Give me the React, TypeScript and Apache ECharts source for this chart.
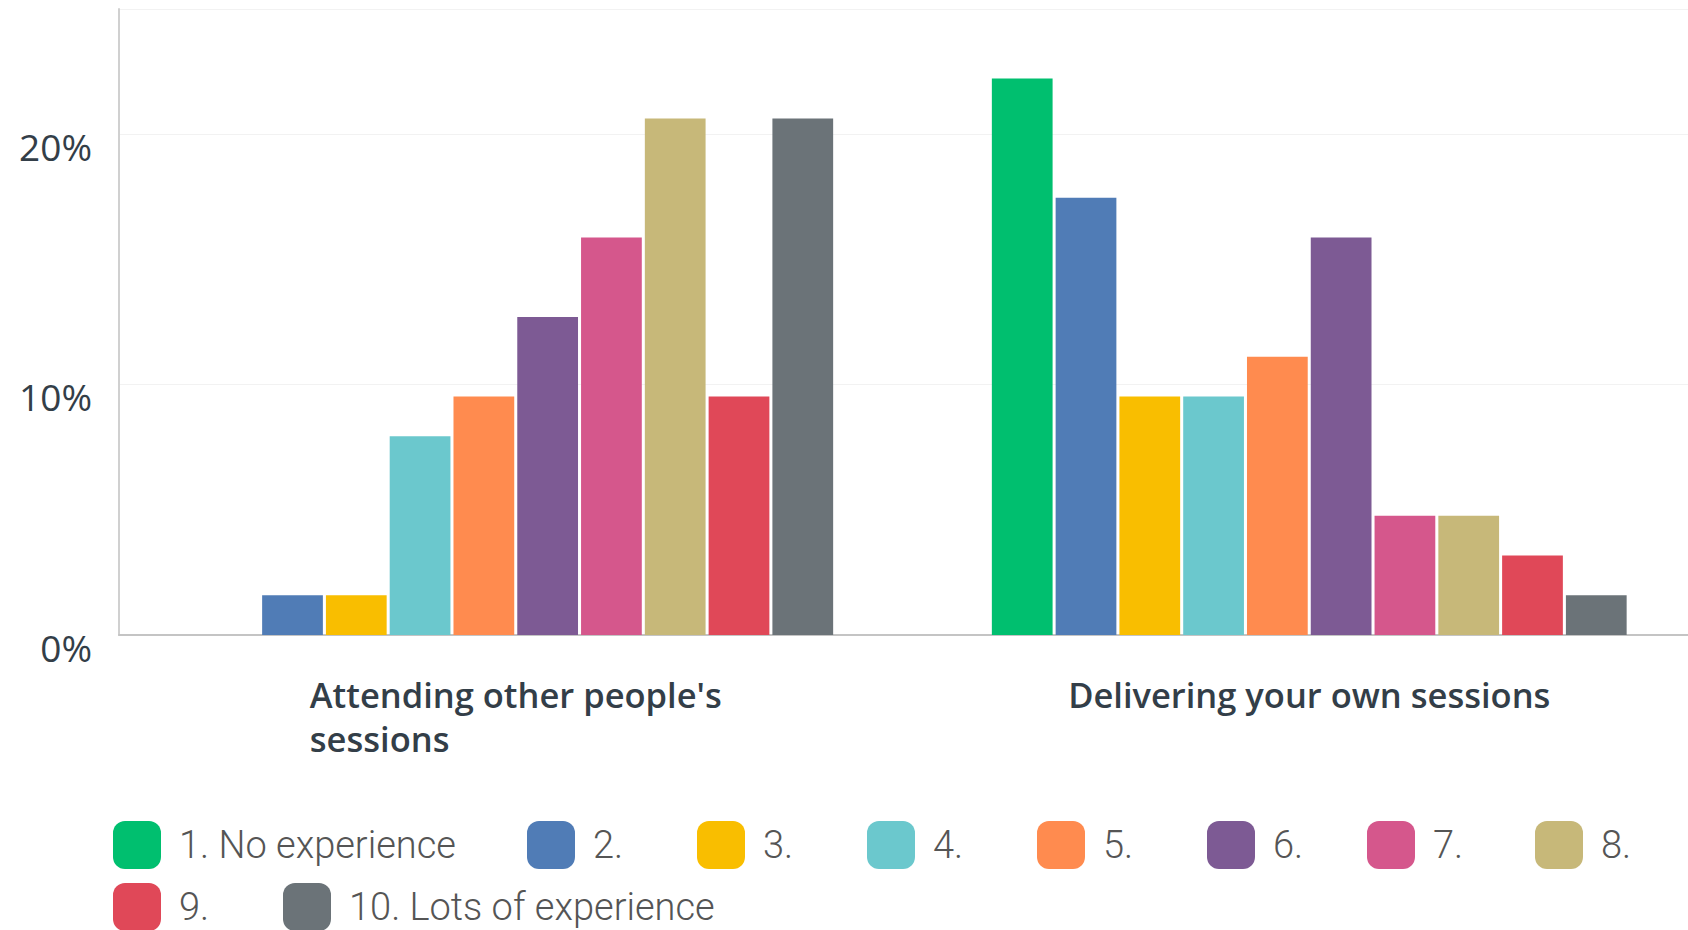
import React, { useEffect, useRef } from "react";
import * as echarts from "echarts";

const categories = ["Attending other people's\nsessions", "Delivering your own sessions"];
const seriesNames = [
  "1. No experience", "2.", "3.", "4.", "5.", "6.", "7.", "8.", "9.", "10. Lots of experience",
];
const colors = [
  "#00bf6f", "#507cb6", "#f9be00", "#6bc8cd", "#ff8b4f",
  "#7d5a94", "#d5578c", "#c7b879", "#e04858", "#6b7378",
];
// percent of respondents per rating, [attending, delivering]
const attending = [0, 1.59, 1.59, 7.94, 9.52, 12.7, 15.87, 20.63, 9.52, 20.63];
const delivering = [22.22, 17.46, 9.52, 9.52, 11.11, 15.87, 4.76, 4.76, 3.17, 1.59];
const yTicks = [0, 10, 20];
const legendTextWidths = [334, 90, 90, 90, 90, 80, 88, 40, 90, 420];

export default function App() {
  const ref = useRef<HTMLDivElement>(null);
  useEffect(() => {
    document.body.style.margin = "0";
    const chart = echarts.init(ref.current!, null, { renderer: "svg" });
    chart.setOption({
      animation: false,
      backgroundColor: "#ffffff",
      color: colors,
      grid: {
        left: 119,
        width: 1587,
        top: 9,
        bottom: 295,
        containLabel: false,
        outerBoundsMode: "none",
      },
      legend: {
        left: 113,
        right: 0,
        top: 821,
        padding: 0,
        itemWidth: 48,
        itemHeight: 48,
        itemGap: 14,
        icon: "roundRect",
        textStyle: {
          fontFamily: "Roboto",
          fontSize: 38,
          fontWeight: 300,
          color: "#555555",
          lineHeight: 48,
          width: 88,
          padding: [0, 0, 0, 13],
        },
        data: seriesNames.map((n, i) => ({
          name: n,
          itemStyle: { borderRadius: 6 },
          textStyle: { width: legendTextWidths[i] },
        })),
      },
      xAxis: {
        type: "category",
        data: categories,
        axisTick: { show: false },
        axisLine: { show: true, lineStyle: { color: "#c4c4c4", width: 2 } },
        axisLabel: {
          margin: 37,
          interval: 0,
          formatter: (v: string) => v.split("\n").map((l) => `{a|${l}}`).join("\n"),
          rich: {
            a: {
              align: "left",
              fontFamily: "Open Sans",
              fontSize: 34.5,
              fontWeight: 600,
              color: "#333e48",
              lineHeight: 44,
            },
          },
        },
      },
      yAxis: {
        type: "value",
        min: 0,
        max: 25,
        interval: 10,
        axisLine: { show: true, lineStyle: { color: "#d0d0d0", width: 2 } },
        axisTick: { show: false },
        splitLine: { show: true, lineStyle: { color: "#f2f2f2", width: 1 } },
        axisLabel: {
          showMaxLabel: false,
          margin: 27,
          verticalAlign: "top",
          lineHeight: 24,
          fontFamily: "Open Sans",
          fontSize: 37,
          color: "#333e48",
          formatter: (v: number) => (yTicks.includes(v) ? `${v}%` : ""),
        },
      },
      series: seriesNames.map((n, i) => ({
        name: n,
        type: "bar",
        barCategoryGap: "20%",
        barGap: "5%",
        data: [attending[i], delivering[i]],
        itemStyle: { color: colors[i] },
      })),
    });
    return () => chart.dispose();
  }, []);
  return <div ref={ref} style={{ width: 1688, height: 930 }} />;
}
